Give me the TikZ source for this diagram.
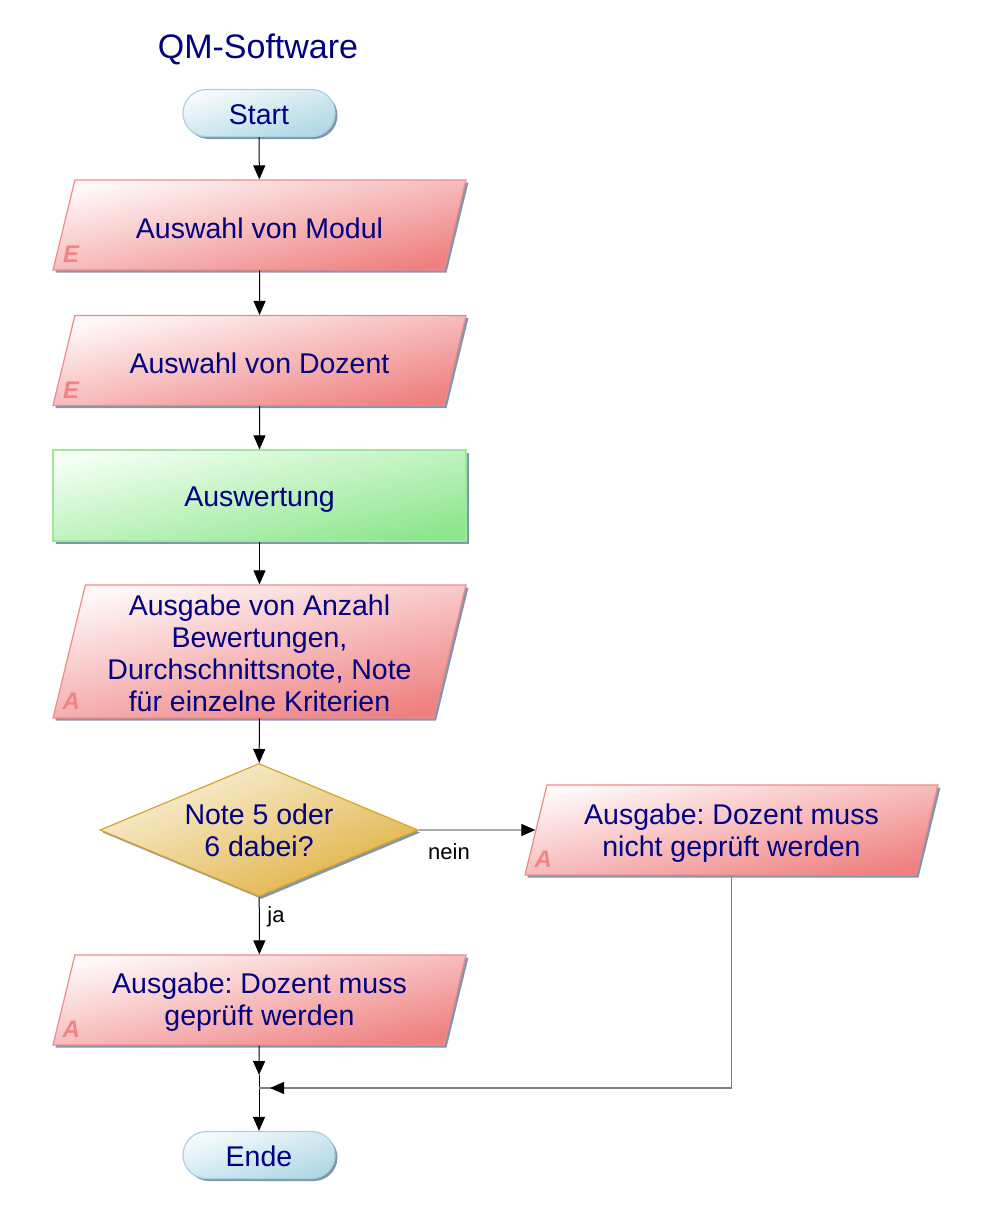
\documentclass[tikz,border=0pt]{standalone}
\usepackage{fontspec}
\setmainfont{Liberation Sans}
\usetikzlibrary{shapes.geometric,shapes.misc,shadows,arrows.meta,calc}
\definecolor{navyt}{HTML}{000080}
\definecolor{pinkb}{HTML}{F08A8A}
\definecolor{pinkl}{HTML}{FFF8F8}
\definecolor{pinkd}{HTML}{EF8080}
\definecolor{greenb}{HTML}{98EC98}
\definecolor{greenl}{HTML}{F2FFF2}
\definecolor{greend}{HTML}{8EE68E}
\definecolor{goldb}{HTML}{D8A428}
\definecolor{goldl}{HTML}{FAF2DC}
\definecolor{goldd}{HTML}{E0B040}
\definecolor{blueb}{HTML}{A8D2E2}
\definecolor{bluel}{HTML}{F6FBFD}
\definecolor{blued}{HTML}{B0D8E5}
\definecolor{shadowc}{HTML}{8397AC}
\definecolor{linegray}{HTML}{808080}
\definecolor{letterc}{HTML}{F08484}
\newcommand\bt[4]{\parbox[c][#1][c]{#2}{\centering\vspace*{#3}#4\par}}
\tikzset{
  shd/.style={general shadow={fill=shadowc, shadow xshift=2.5pt, shadow yshift=-2.5pt}},
  base/.style={font=\fontsize{28.5}{32}\selectfont\frenchspacing, text=navyt, inner sep=0pt, line width=1.2pt, align=center, shd},
  io/.style={base, trapezium, trapezium left angle=76.3, trapezium right angle=103.7,
    trapezium stretches body, minimum width=413pt, minimum height=90pt,
    draw=pinkb, top color=pinkl, bottom color=pinkd, shading angle=12.5},
  proc/.style={base, rectangle, minimum width=413pt, minimum height=91pt,
    draw=greenb, top color=greenl, bottom color=greend, shading angle=12.5},
  decis/.style={base, diamond, aspect=2.4, minimum width=318pt, minimum height=133pt,
    draw=goldb, top color=goldl, bottom color=goldd, shading angle=22},
  term/.style={base, rounded rectangle, minimum width=152pt, minimum height=47pt,
    draw=blueb, top color=bluel, bottom color=blued, shading angle=17},
  letter/.style={font=\fontsize{24}{24}\selectfont\bfseries\itshape, text=letterc, inner sep=0pt},
  lbl/.style={font=\fontsize{22}{24}\selectfont, text=black, inner sep=0pt},
  arr/.style={line width=1pt, draw=black, -{Triangle[length=14pt,width=12pt,color=black]}},
  garr/.style={line width=1.2pt, draw=linegray, -{Triangle[length=14pt,width=12pt,color=black]}},
  gline/.style={line width=1.2pt, draw=linegray},
}
\begin{document}
\begin{tikzpicture}[x=1pt,y=-1pt]
\useasboundingbox (0,0) rectangle (990,1221);
\node[font=\fontsize{34}{38}\selectfont, text=navyt] (title) at (258,49) {QM-Software};
\node[term] (start) at (259,113) {\bt{47pt}{80pt}{4pt}{Start}};
\node[io] (p1) at (259.5,225) {\bt{90pt}{330pt}{6pt}{Auswahl von Modul}};
\node[io] (p2) at (259.5,360.5) {\bt{90pt}{330pt}{6pt}{Auswahl von Dozent}};
\node[proc] (aus) at (259.5,495.5) {\bt{91pt}{330pt}{8pt}{Auswertung}};
\node[io] (p3) at (259.5,651.5) {\bt{133pt}{330pt}{3pt}{Ausgabe von Anzahl\\Bewertungen,\\Durchschnittsnote, Note\\für einzelne Kriterien}};
\node[decis] (d) at (259,830) {Note 5 oder\\6 dabei?};
\node[io] (na) at (731.5,830) {\bt{90pt}{330pt}{7pt}{Ausgabe: Dozent muss\\nicht geprüft werden}};
\node[io] (p4) at (259.5,1000) {\bt{90pt}{330pt}{5pt}{Ausgabe: Dozent muss\\geprüft werden}};
\node[term] (ende) at (259,1155) {\bt{47pt}{80pt}{2pt}{Ende}};

\node[letter] (e1) at ($(p1.bottom left corner)+(19pt,16pt)$) {E};
\node[letter] (e2) at ($(p2.bottom left corner)+(19pt,16pt)$) {E};
\node[letter] (a1) at ($(p3.bottom left corner)+(19pt,17pt)$) {A};
\node[letter] (a2) at ($(na.bottom left corner)+(19pt,16pt)$) {A};
\node[letter] (a3) at ($(p4.bottom left corner)+(19pt,16pt)$) {A};

\coordinate (j) at (259,1075);
\coordinate (m) at (259,1088);

\draw[arr] (start) -- (p1);
\draw[arr] (p1) -- (p2);
\draw[arr] (p2) -- (aus);
\draw[arr] (aus) -- (p3);
\draw[arr] (p3) -- (d);
\draw[arr] (d) -- (p4);
\draw[garr] (d.east) -- (na);
\draw[arr] (p4) -- (j);
\draw[arr] (j) -- (ende);
\draw[gline] (na.south) |- (m);
\draw[garr] ($(m)+(25pt,0pt)$) -- ($(m)+(11pt,0pt)$);

\node[lbl] (ja) at (276,917) {ja};
\node[lbl] (nein) at (449,852) {nein};
\end{tikzpicture}
\end{document}
